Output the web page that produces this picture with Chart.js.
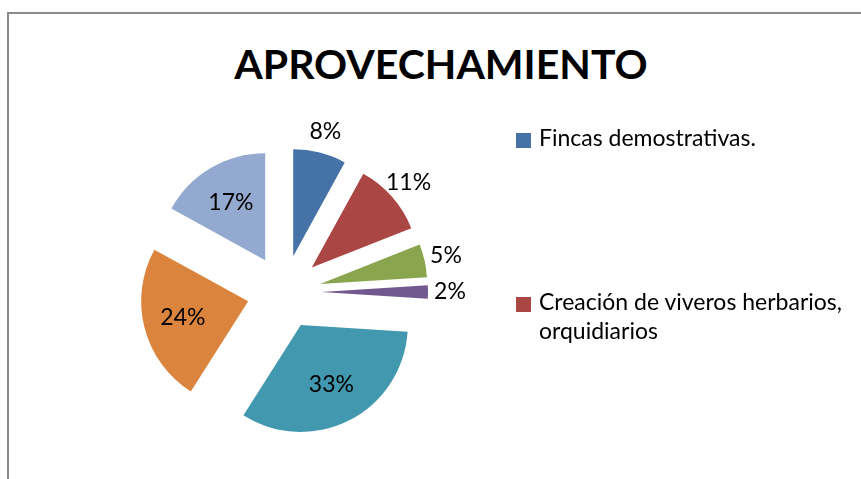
<!DOCTYPE html>
<html>
<head>
<meta charset="utf-8">
<script src="https://cdn.jsdelivr.net/npm/chart.js@4"></script>
<style>
  html, body { margin: 0; padding: 0; background: #fff; overflow: hidden; }
  body { width: 861px; height: 479px; position: relative; font-family: Lato, sans-serif; }
  #frame { position: absolute; left: 7px; top: 12px; width: 900px; height: 500px; border: 2px solid #8a8a8a; box-sizing: border-box; }
  #title { position: absolute; left: 0; width: 882px; top: 44px; text-align: center; font: bold 41px/40px Lato, sans-serif; color: #000; }
  #chart { position: absolute; left: 0; top: 0; }
  .leg { position: absolute; left: 516px; font: 23px/29px Lato, sans-serif; color: #000; }
  .leg i { position: absolute; left: 0; width: 15px; height: 15px; }
  .leg span { position: absolute; left: 23px; width: 330px; }
</style>
</head>
<body>
<div id="frame"></div>
<div id="title">APROVECHAMIENTO</div>
<canvas id="chart" width="861" height="479"></canvas>
<div id="legend"></div>
<script>
const categories = [
  'Fincas demostrativas.',
  'Creación de viveros herbarios, orquidiarios',
  '', '', '', '', ''
];
const values = [8, 11, 5, 2, 33, 24, 17];
const colors = ['#4572A7', '#AA4643', '#89A54E', '#71588F', '#4198AF', '#DB843D', '#93A9CF'];
const legendShown = 2;

const pieRadius = 107;
const explode = 37;

// pull every slice out along its middle angle by the same distance
const explodeSlices = {
  id: 'explodeSlices',
  afterDatasetUpdate(chart, args) {
    if (args.index !== 0) return;
    chart.getDatasetMeta(0).data.forEach(arc => {
      const mid = (arc.startAngle + arc.endAngle) / 2;
      arc.x += Math.cos(mid) * explode;
      arc.y += Math.sin(mid) * explode;
    });
  }
};

const pctLabels = {
  id: 'pctLabels',
  afterDatasetsDraw(chart) {
    const ctx = chart.ctx;
    const meta = chart.getDatasetMeta(0);
    ctx.save();
    ctx.font = '23px Lato, sans-serif';
    ctx.fillStyle = '#000';
    ctx.textAlign = 'center';
    ctx.textBaseline = 'middle';
    meta.data.forEach((arc, i) => {
      const mid = (arc.startAngle + arc.endAngle) / 2;
      const v = values[i];
      const d = v < 15 ? pieRadius + 22 : pieRadius * 0.63;
      ctx.fillText(v + '%', arc.x + Math.cos(mid) * d, arc.y + Math.sin(mid) * d);
    });
    ctx.restore();
  }
};

new Chart(document.getElementById('chart'), {
  type: 'pie',
  data: {
    labels: categories,
    datasets: [{
      data: values,
      backgroundColor: colors,
      borderWidth: 0,
      radius: pieRadius,
    }],
  },
  options: {
    responsive: false,
    animation: false,
    events: [],
    layout: { padding: { left: 154, right: 447, top: 162, bottom: 57 } },
    plugins: {
      legend: { display: false },
      title: { display: false },
      tooltip: { enabled: false },
    },
  },
  plugins: [explodeSlices, pctLabels],
});

// legend (only the first entries are visible in the original)
const legendTops = [123, 287];
const legend = document.getElementById('legend');
for (let i = 0; i < legendShown; i++) {
  const el = document.createElement('div');
  el.className = 'leg';
  el.style.top = legendTops[i] + 'px';
  el.innerHTML = '<i style="top:10px;background:' + colors[i] + '"></i><span>' + categories[i] + '</span>';
  legend.appendChild(el);
}
</script>
</body>
</html>
